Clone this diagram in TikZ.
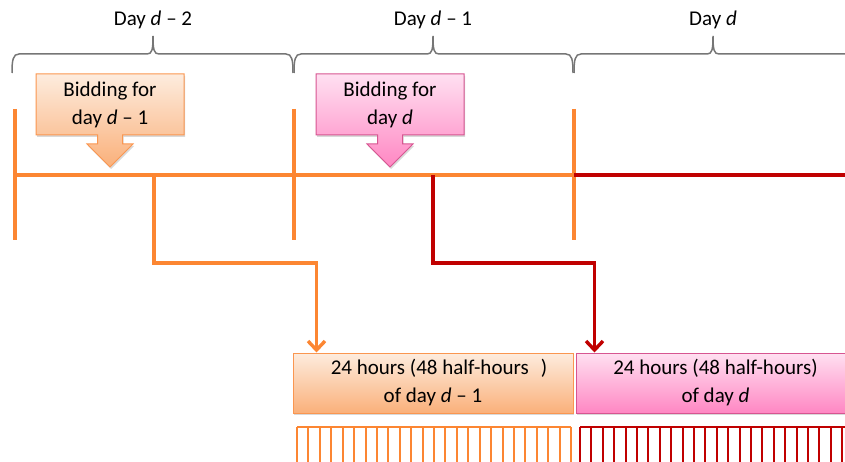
\documentclass[tikz,border=0pt]{standalone}
\usepackage{fontspec}
\setmainfont{Carlito}
\usetikzlibrary{arrows.meta,shadows,calc}
\definecolor{orln}{RGB}{252,134,50}
\definecolor{redln}{RGB}{192,0,0}
\definecolor{brgray}{RGB}{118,118,118}
\definecolor{ortop}{RGB}{253,236,222}
\definecolor{orbot}{RGB}{250,176,122}
\definecolor{orbd}{RGB}{250,150,80}
\definecolor{pktop}{RGB}{255,224,241}
\definecolor{pkbot}{RGB}{255,135,195}
\definecolor{pkbd}{RGB}{215,85,145}
\newcommand{\daybrace}[3]{% xL, xR, xm
  \draw[brc] (#1,-73) .. controls (#1,-60) and (#1+1,-54) .. (#1+7,-54)
    -- (#3-6,-54) .. controls (#3-1,-54) and (#3,-50) .. (#3,-36)
    .. controls (#3,-50) and (#3+1,-54) .. (#3+6,-54)
    -- (#2-7,-54) .. controls (#2-1,-54) and (#2,-60) .. (#2,-73);}
\begin{document}
\begin{tikzpicture}[x=1pt,y=1pt,
  txt/.style={font=\fontsize{21}{28}\selectfont, align=center, inner sep=0pt},
  brc/.style={draw=brgray, line width=1.5pt},
  orline/.style={draw=orln, line width=3.4pt},
  rdline/.style={draw=redln, line width=3.4pt},
  shd/.style={drop shadow={shadow xshift=1.2pt, shadow yshift=-2pt, opacity=0.3}},
  orfill/.style={draw=orbd, line width=1pt, top color=ortop, bottom color=orbot, shd},
  pkfill/.style={draw=pkbd, line width=1pt, top color=pktop, bottom color=pkbot, shd},
  arr/.style={-{Straight Barb[length=9pt,width=17pt]}},
  combo/.style={draw=orln, line width=2pt},
  combr/.style={draw=redln, line width=2pt}
]
\useasboundingbox (0,0) rectangle (845,-462);

% day labels and braces
\node[txt] (dl2) at (153,-20) {Day \textit{d} – 2};
\node[txt] (dl1) at (433,-20) {Day \textit{d} – 1};
\node[txt] (dl0) at (713,-20) {Day \textit{d}};
\daybrace{12}{293}{153}
\daybrace{294}{573}{433}
\daybrace{574}{853}{713}

% timeline
\draw[orline] (15,-109) -- (15,-240);
\draw[orline] (294,-109) -- (294,-240);
\draw[orline] (574,-109) -- (574,-240);
\draw[orline] (13.5,-175) -- (574,-175);
\draw[rdline] (574,-175) -- (846,-175);
\coordinate (tA) at (154,-175);
\coordinate (tB) at (433,-175);

% callouts
\path[orfill] (36,-74) -- (184,-74) -- (184,-135) -- (122.5,-135) -- (122.5,-144)
  -- (133,-144) -- (110,-167) -- (87,-144) -- (97.5,-144) -- (97.5,-135)
  -- (36,-135) -- cycle;
\node[txt] (bid1) at (110,-104.5) {Bidding for\\day \textit{d} – 1};
\path[pkfill] (316,-74) -- (464,-74) -- (464,-135) -- (402.5,-135) -- (402.5,-144)
  -- (413,-144) -- (390,-167) -- (367,-144) -- (377.5,-144) -- (377.5,-135)
  -- (316,-135) -- cycle;
\node[txt] (bid2) at (390,-104.5) {Bidding for\\day \textit{d}};

% bottom boxes
\node[orfill, txt, minimum width=280pt, minimum height=60pt] (boxA) at (433,-383)
  {\hspace*{12pt}24 hours (48 half-hours\hspace{12pt})\\of day \textit{d} – 1};
\node[pkfill, txt, minimum width=279pt, minimum height=60pt] (boxB) at (715.5,-383)
  {24 hours (48 half-hours)\\of day \textit{d}};

% connectors
\draw[orline, arr] (tA) -- (154,-263) -| ([xshift=24pt]boxA.north west);
\draw[rdline, arr] (tB) -- (433,-263) -| ([xshift=19pt]boxB.north west);

% half-hour combs
\draw[combo] (297,-427) -- (571,-427);
\foreach \i in {0,...,24} \draw[combo] (297+\i*11.417,-427) -- (297+\i*11.417,-463);
\draw[combr] (580,-427) -- (846,-427);
\foreach \i in {0,...,23} \draw[combr] (580+\i*11.4,-427) -- (580+\i*11.4,-463);
\end{tikzpicture}
\end{document}
